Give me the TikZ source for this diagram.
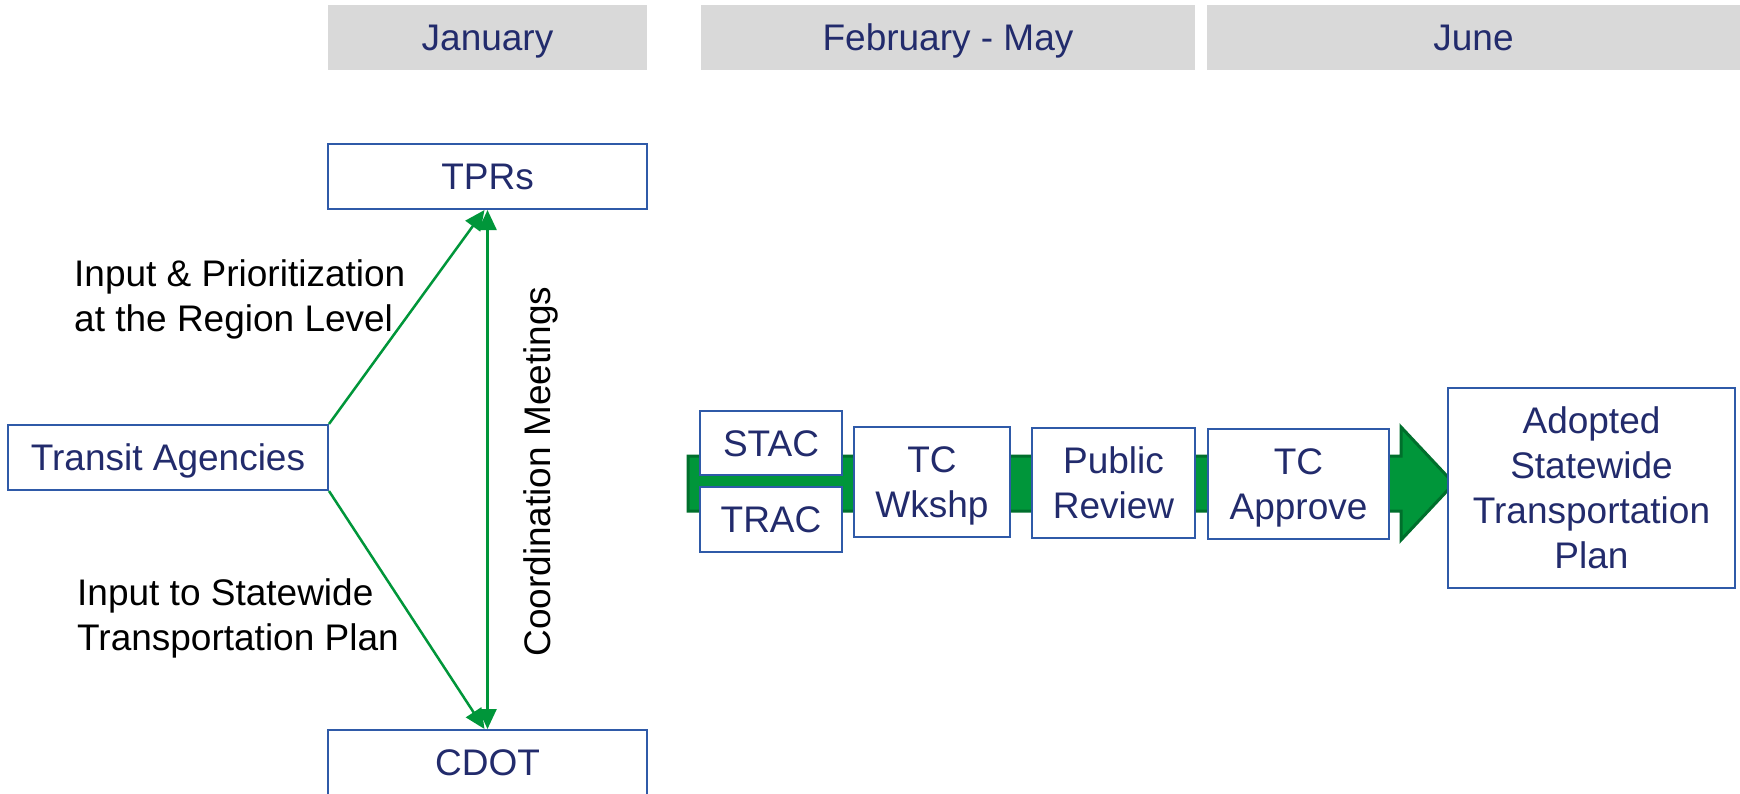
\documentclass[tikz,border=0pt]{standalone}
\usepackage{fontspec}
\setmainfont{Liberation Sans}
\usetikzlibrary{arrows.meta}
\definecolor{txtnavy}{HTML}{222B6C}
\definecolor{boxblue}{HTML}{2F5AA8}
\definecolor{arrgreen}{HTML}{00963A}
\definecolor{arrdark}{HTML}{006F2C}
\definecolor{hdrgray}{HTML}{D9D9D9}
\tikzset{
  bigfont/.style={font=\fontsize{37}{45}\selectfont},
  hdr/.style={bigfont, fill=hdrgray, text=txtnavy, inner sep=0pt, minimum height=65pt, text height=26.5pt, text depth=0pt},
  pbox/.style={bigfont, draw=boxblue, line width=2pt, fill=white, text=txtnavy, inner sep=0pt, align=center, text height=26.5pt, text depth=0pt},
  twol/.style={text height=71.5pt, text depth=0pt},
  fourl/.style={text height=161.5pt, text depth=0pt},
  lbl/.style={bigfont, text=black, inner sep=0pt, align=left, text height=71.5pt, text depth=0pt},
  conn/.style={draw=arrgreen, line width=2.5pt, -{Triangle[length=20pt,width=18pt]}},
  dconn/.style={draw=arrgreen, line width=2.5pt, {Triangle[length=20pt,width=18pt]}-{Triangle[length=20pt,width=18pt]}},
  bigarrow/.style={fill=arrgreen, draw=arrdark, line width=3pt, line join=miter}
}
\begin{document}
\begin{tikzpicture}[x=1pt,y=-1pt]
\clip (0,0) rectangle (1740,793);
\fill[white] (0,0) rectangle (1740,793);
% header bars
\node[hdr, minimum width=319pt] (jan) at (487.5,37.5) {January};
\node[hdr, minimum width=494pt] (feb) at (948,37.5) {February - May};
\node[hdr, minimum width=533pt] (jun) at (1473.5,37.5) {June};
% big green arrow (background shape)
\draw[bigarrow] (688,456) -- (1401,456) -- (1401,427) -- (1454,483.5) -- (1401,540) -- (1401,511) -- (688,511) -- cycle;
% left part
\node[pbox, minimum width=319pt, minimum height=65pt] (tprs) at (487.5,176.5) {TPRs};
\node[pbox, minimum width=319pt, minimum height=65pt] (cdot) at (487.5,762.5) {CDOT};
\node[pbox, minimum width=320pt, minimum height=65pt] (transit) at (168,457.5) {Transit Agencies};
\draw[conn] (transit.north east) -- ([xshift=-3pt]tprs.south);
\draw[conn] (transit.south east) -- ([xshift=-3pt]cdot.north);
\draw[dconn] (tprs.south) -- (cdot.north);
\node[lbl, anchor=west] (lbl1) at (74,295.5) {Input \& Prioritization\\at the Region Level};
\node[lbl, anchor=west] (lbl2) at (77,615) {Input to Statewide\\Transportation Plan};
\node[bigfont, inner sep=0pt, rotate=90, text height=26.5pt, text depth=0pt] (coord) at (537.5,471.5) {Coordination Meetings};
% process boxes
\node[pbox, minimum width=142pt, minimum height=64pt] (stac) at (771,443) {STAC};
\node[pbox, minimum width=142pt, minimum height=65pt] (trac) at (771,519.5) {TRAC};
\node[pbox, twol, minimum width=156pt, minimum height=110pt] (wkshp) at (932,482) {TC\\Wkshp};
\node[pbox, twol, minimum width=163pt, minimum height=110pt] (review) at (1113.5,483) {Public\\Review};
\node[pbox, twol, minimum width=181pt, minimum height=110pt] (approve) at (1298.5,484) {TC\\Approve};
\node[pbox, fourl, minimum width=287pt, minimum height=200pt] (adopted) at (1591.5,488) {Adopted\\Statewide\\Transportation\\Plan};
\end{tikzpicture}
\end{document}
